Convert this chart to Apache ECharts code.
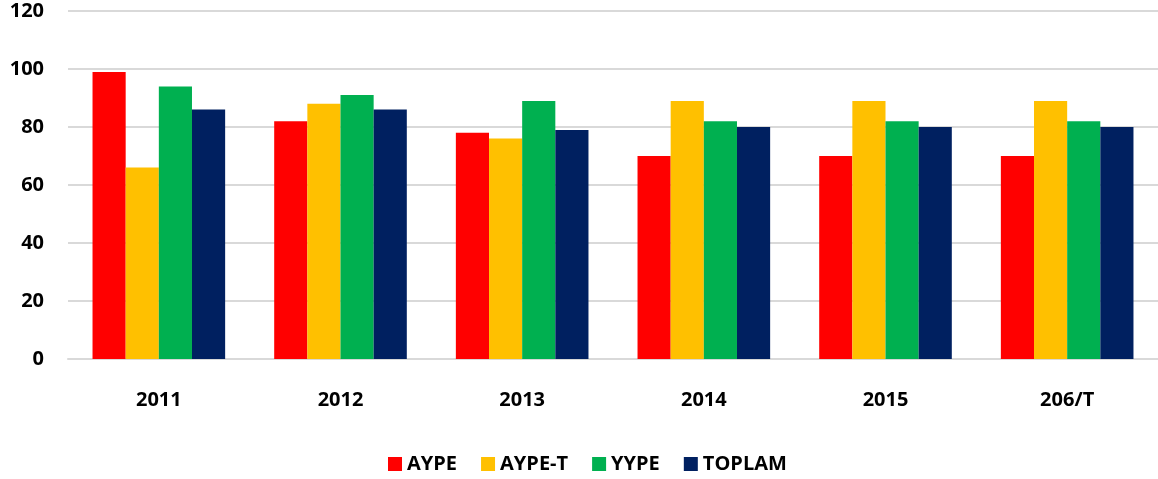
<!DOCTYPE html>
<html>
<head>
<meta charset="utf-8">
<script src="https://cdn.jsdelivr.net/npm/echarts@6/dist/echarts.min.js"></script>
<style>
  html, body { margin: 0; padding: 0; background: #fff; }
  #main { width: 1158px; height: 479px; }
</style>
</head>
<body>
<div id="main"></div>
<script>
// years on the x axis
var years = ['2011', '2012', '2013', '2014', '2015', '206/T'];
var seriesNames = ['AYPE', 'AYPE-T', 'YYPE', 'TOPLAM'];
var colors = ['#ff0000', '#ffc000', '#00b050', '#002060'];

var aype   = [99, 82, 78, 70, 70, 70];
var aypeT  = [66, 88, 76, 89, 89, 89];
var yype   = [94, 91, 89, 82, 82, 82];
var toplam = [86, 86, 79, 80, 80, 80];
var values = [aype, aypeT, yype, toplam];

var chart = echarts.init(document.getElementById('main'));

var font = 'Open Sans, Liberation Sans, sans-serif';

var option = {
  animation: false,
  grid: { left: 68, right: 0, top: 11, bottom: 120, containLabel: false },
  legend: {
    bottom: 0,
    left: 383,
    itemWidth: 14,
    itemHeight: 14,
    itemGap: 24,
    icon: 'rect',
    textStyle: { fontFamily: font, fontWeight: 'bold', fontSize: 20, color: '#000' },
    data: seriesNames
  },
  xAxis: {
    type: 'category',
    data: years,
    axisLine: { lineStyle: { color: '#d9d9d9', width: 2 } },
    axisTick: { show: false },
    axisLabel: { fontFamily: font, fontWeight: 'bold', fontSize: 20, color: '#000', margin: 31 }
  },
  yAxis: {
    type: 'value',
    min: 0,
    max: 120,
    interval: 20,
    axisLine: { show: false },
    axisTick: { show: false },
    splitLine: { lineStyle: { color: '#d9d9d9', width: 2 } },
    axisLabel: { fontFamily: font, fontWeight: 'bold', fontSize: 20, color: '#000', margin: 24 }
  },
  series: seriesNames.map(function (n, i) {
    return {
      name: n,
      type: 'bar',
      data: values[i],
      barGap: '0%',
      barCategoryGap: '27%',
      itemStyle: { color: colors[i] }
    };
  })
};

chart.setOption(option);
</script>
</body>
</html>
